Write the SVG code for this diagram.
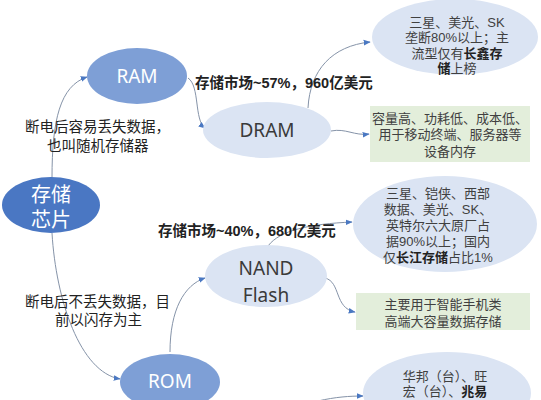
<svg xmlns="http://www.w3.org/2000/svg" width="541" height="400" viewBox="0 0 541 400">
<defs>
<marker id="arr" viewBox="0 0 10 10" refX="9" refY="5" markerWidth="7" markerHeight="7" markerUnits="userSpaceOnUse" orient="auto">
<path d="M0,1 L10,5 L0,9 z" fill="#4a78c2"/>
</marker>
<style>
.c{fill:none;stroke:#8593a8;stroke-width:1;marker-end:url(#arr)}
.dark{fill:#4a77c3}
.mid{fill:#7e9fd6}
.light{fill:#dbe4f3}
.green{fill:#e3eedb}
.nw{font-family:"Noto Sans","Noto Sans CJK SC",sans-serif;fill:#ffffff;text-anchor:middle}
.nd{font-family:"Noto Sans","Noto Sans CJK SC",sans-serif;fill:#3a3a3a;text-anchor:middle}
.t{font-family:"Liberation Sans","Noto Sans CJK SC",sans-serif;fill:#404040;text-anchor:middle;font-size:13px}
.lb{font-family:"Liberation Sans","Noto Sans CJK SC",sans-serif;fill:#222;font-size:14.5px}
.b{font-weight:bold;fill:#222}
</style>
</defs>
<rect width="541" height="400" fill="#ffffff"/>
<g id="connectors">
<path class="c" d="M52,178 C52,120 60,86 87,77"/>
<path class="c" d="M52,233 C56,300 80,372 120,379"/>
<path class="c" d="M188,78 C200,86 194,120 205,128"/>
<path class="c" d="M308,108 C310,70 332,46 370,42"/>
<path class="c" d="M331,131 C346,128 354,136 369,134"/>
<path class="c" d="M170,352 C170,310 184,285 205,278"/>
<path class="c" d="M268,246 C280,230 310,224 352,222"/>
<path class="c" d="M325,278 C341,282 334,308 355,312"/>
<path class="c" d="M318,401 C335,397 350,396 363,396"/>
</g>
<g id="root">
<ellipse class="dark" cx="51" cy="205" rx="49" ry="28"/>
<text class="nw" x="51" y="202" font-size="20">存储</text>
<text class="nw" x="51" y="227" font-size="20">芯片</text>
</g>
<g id="ram">
<ellipse class="mid" cx="137" cy="76" rx="50" ry="28"/>
<text class="nw" x="137" y="83" font-size="19">RAM</text>
</g>
<g id="dram">
<ellipse class="light" cx="267" cy="130" rx="64" ry="28"/>
<text class="nd" x="267" y="137" font-size="19">DRAM</text>
</g>
<g id="dram-makers">
<ellipse class="light" cx="455" cy="37" rx="83" ry="38"/>
<text class="t" x="457" y="27">三星、美光、SK</text>
<text class="t" x="457" y="42">垄断80%以上；主</text>
<text class="t" x="457" y="58">流型仅有<tspan class="b">长鑫存</tspan></text>
<text class="t" x="457" y="73"><tspan class="b">储</tspan>上榜</text>
</g>
<g id="dram-use">
<rect class="green" x="370" y="106" width="160" height="56"/>
<text class="t" x="450" y="123">容量高、功耗低、成本低、</text>
<text class="t" x="450" y="139">用于移动终端、服务器等</text>
<text class="t" x="450" y="156">设备内存</text>
</g>
<g id="nand">
<ellipse class="light" cx="266" cy="276" rx="61" ry="31"/>
<text class="nd" x="266" y="275" font-size="19">NAND</text>
<text class="nd" x="266" y="302" font-size="19">Flash</text>
</g>
<g id="nand-makers">
<ellipse class="light" cx="445" cy="224" rx="92" ry="48"/>
<text class="t" x="438" y="198">三星、铠侠、西部</text>
<text class="t" x="438" y="214">数据、美光、SK、</text>
<text class="t" x="438" y="230">英特尔六大原厂占</text>
<text class="t" x="438" y="246">据90%以上；国内</text>
<text class="t" x="438" y="262">仅<tspan class="b">长江存储</tspan>占比1%</text>
</g>
<g id="nand-use">
<rect class="green" x="356" y="293" width="174" height="37"/>
<text class="t" x="443" y="309">主要用于智能手机类</text>
<text class="t" x="443" y="326">高端大容量数据存储</text>
</g>
<g id="rom">
<ellipse class="mid" cx="170" cy="382" rx="50" ry="28"/>
<text class="nw" x="170" y="388" font-size="19">ROM</text>
</g>
<g id="rom-makers">
<ellipse class="light" cx="447" cy="393" rx="84" ry="41"/>
<text class="t" x="445" y="381" font-size="12.5">华邦（台）、旺</text>
<text class="t" x="445" y="396" font-size="12.5">宏（台）、<tspan class="b">兆易</tspan></text>
</g>
<g id="labels">
<text class="lb b" x="195" y="88" font-size="14">存储市场~57%，960亿美元</text>
<text class="lb" x="25" y="132">断电后容易丢失数据，</text>
<text class="lb" x="47" y="151">也叫随机存储器</text>
<text class="lb b" x="158" y="236">存储市场~40%，680亿美元</text>
<text class="lb" x="25" y="307">断电后不丢失数据，目</text>
<text class="lb" x="55" y="325">前以闪存为主</text>
</g>
</svg>
